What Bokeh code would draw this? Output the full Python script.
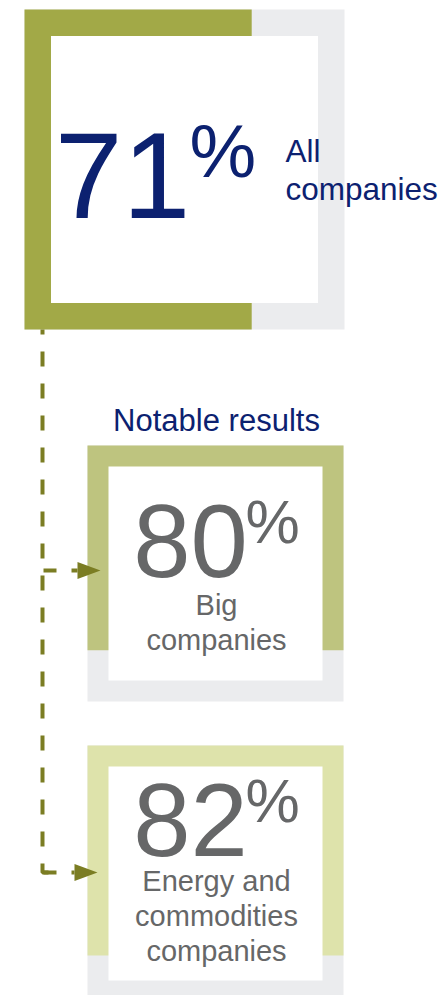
from bokeh.plotting import figure
from bokeh.models import Range1d
from bokeh.embed import file_html
from bokeh.resources import INLINE
from bokeh.core.properties import value

# ---- data ----
pct_values = [71, 80, 82]
pct_labels = ["71", "80", "82"]
group_lines = [["All", "companies"], ["Big", "companies"],
               ["Energy and", "commodities", "companies"]]
header = "Notable results"

# ---- styles ----
NAVY = "#0c2170"
GREY_TXT = "#666768"
TRACK = "#ebecee"
FILLS = ["#a2a947", "#bec47f", "#dee3ab"]
ARROW = "#7b7d23"
FONT = value("Liberation Sans")
BL = 0.37  # empirical baseline correction (fraction of font size)

W, H = 442, 995
p = figure(width=W, height=H, x_range=Range1d(0, W), y_range=Range1d(H, 0),
           output_backend="svg", toolbar_location=None, min_border=0)
p.axis.visible = False
p.grid.visible = False
p.outline_line_color = None


def txt(x, y, t, size, color, align):
    p.text(x=x, y=[v - BL * size for v in y], text=t, text_font=FONT,
           text_font_size=f"{size}px", text_color=color, text_align=align,
           text_baseline="alphabetic")


# box geometry (page pixels)
boxes = [dict(l=24, t=9, s=320, b=26.5, horiz=True),
         dict(l=87, t=445, s=256, b=21, horiz=False),
         dict(l=87, t=745, s=256, b=21, horiz=False)]

for bx, v, fc in zip(boxes, pct_values, FILLS):
    l, t, s, b = bx["l"], bx["t"], bx["s"], bx["b"]
    p.quad(left=[l], right=[l + s], top=[t], bottom=[t + s], fill_color=TRACK, line_color=None)
    if bx["horiz"]:
        p.quad(left=[l], right=[l + s * v / 100], top=[t], bottom=[t + s], fill_color=fc, line_color=None)
    else:
        p.quad(left=[l], right=[l + s], top=[t], bottom=[t + s * v / 100], fill_color=fc, line_color=None)
    p.quad(left=[l + b], right=[l + s - b], top=[t + b], bottom=[t + s - b], fill_color="white", line_color=None)

# connector
vx = 42
y_a1 = 570
y_a2 = 872
p.line(x=[vx, vx, vx + 10], y=[boxes[0]["t"] + boxes[0]["s"], y_a2, y_a2], line_color=ARROW,
       line_width=4, line_dash="15 17", line_dash_offset=10)
for ya, tip in [(y_a1, 100), (y_a2, 97)]:
    base = tip - 23
    p.line(x=[vx + 1, base], y=[ya, ya], line_color=ARROW, line_width=4, line_dash="13 15")
    p.patch(x=[base, tip, base], y=[ya - 8.5, ya, ya + 8.5], fill_color=ARROW, line_color=None)

# texts - box 1
txt([122], [220], [pct_labels[0]], 122, NAVY, "center")
txt([189], [178], ["%"], 75, NAVY, "left")
txt([285, 285], [162, 200], group_lines[0], 31.5, NAVY, "left")

# header
txt([216], [431], [header], 31, NAVY, "center")

# boxes 2 and 3
for bx, lab, lines, base_num, line0 in [(boxes[1], pct_labels[1], group_lines[1], 579, 615),
                                        (boxes[2], pct_labels[2], group_lines[2], 858, 891)]:
    txt([190], [base_num], [lab], 103, GREY_TXT, "center")
    txt([245], [base_num - 35], ["%"], 61, GREY_TXT, "left")
    txt([216] * len(lines), [line0 + 35 * i for i in range(len(lines))], lines, 29,
        GREY_TXT, "center")

open("out.html", "w").write(file_html(p, INLINE))
